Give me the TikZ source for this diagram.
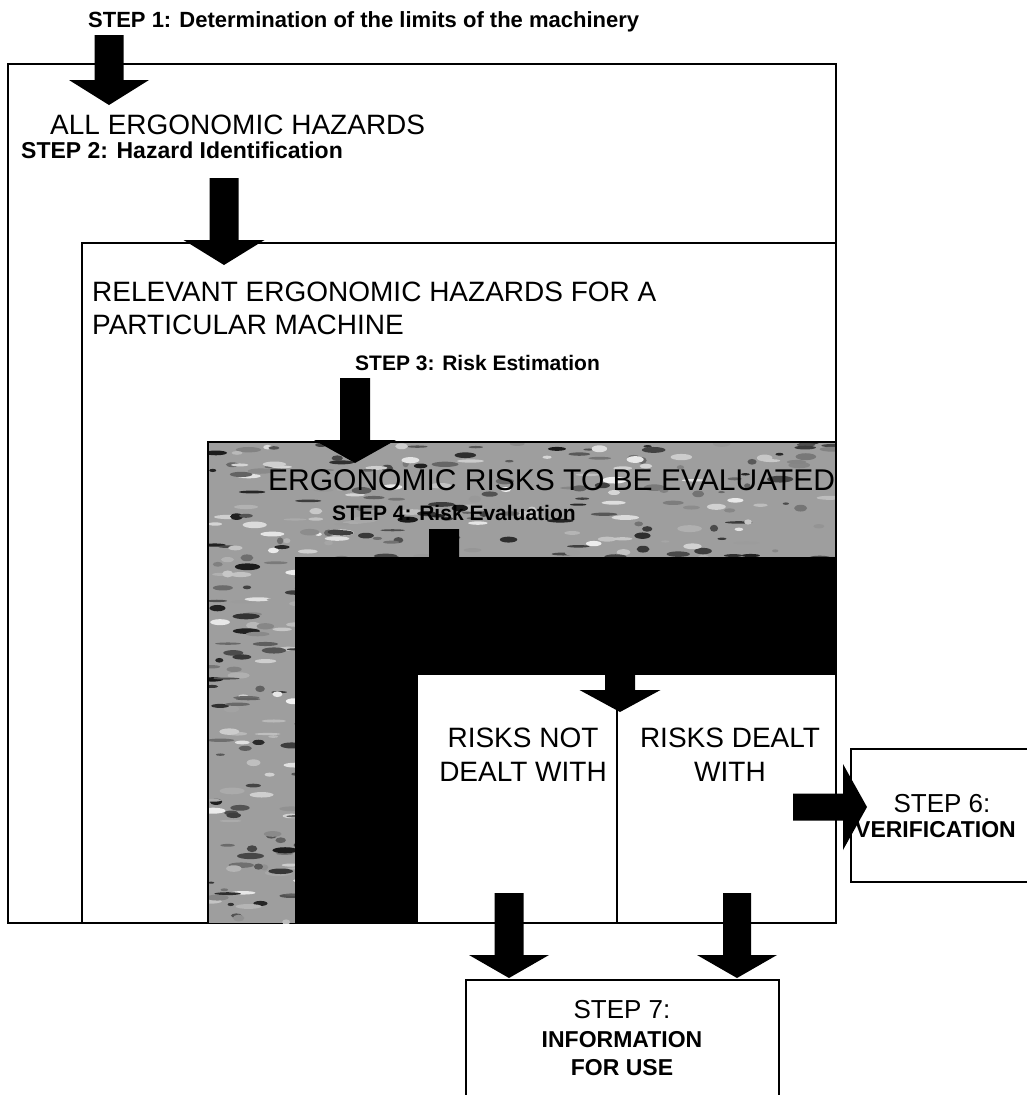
\documentclass[tikz,border=0pt]{standalone}
\usepackage{fontspec}
\setmainfont{Liberation Sans}
\usetikzlibrary{calc}
\tikzset{
  frame/.style={draw=black, line width=1.8pt},
  thin frame/.style={draw=black, line width=1.4pt},
  bigtxt/.style={font=\fontsize{28}{33}\selectfont, inner sep=0pt},
  evaltxt/.style={font=\fontsize{30}{34}\selectfont, inner sep=0pt},
  steplbl/.style={font=\bfseries\fontsize{21}{25}\selectfont, inner sep=0pt},
  boxtxt/.style={font=\fontsize{26}{30}\selectfont, inner sep=0pt},
  boxbold/.style={font=\bfseries\fontsize{23}{27}\selectfont, inner sep=0pt},
  arrowfill/.style={fill=black},
}
% down block arrow: #1 start coord, #2 tip coord, #3 shaft half width, #4 head half width, #5 head length
\newcommand\dnarrow[5]{\fill[arrowfill] let \p1=(#1),\p2=(#2) in
  (\x1-#3pt,\y1) -- (\x1+#3pt,\y1) -- (\x1+#3pt,\y2+#5pt) -- (\x1+#4pt,\y2+#5pt)
  -- (\x2,\y2) -- (\x1-#4pt,\y2+#5pt) -- (\x1-#3pt,\y2+#5pt) -- cycle;}
% right block arrow
\newcommand\rtarrow[5]{\fill[arrowfill] let \p1=(#1),\p2=(#2) in
  (\x1,\y1+#3pt) -- (\x1,\y1-#3pt) -- (\x2-#5pt,\y1-#3pt) -- (\x2-#5pt,\y1-#4pt)
  -- (\x2,\y2) -- (\x2-#5pt,\y1+#4pt) -- (\x2-#5pt,\y1+#3pt) -- cycle;}
\begin{document}
\begin{tikzpicture}[x=1pt,y=-1pt]
\useasboundingbox[fill=white] (0,0) rectangle (1026,1095);

% outer boxes
\draw[frame] (8,64) rectangle (836,923);
\draw[frame] (82,243) rectangle (836,923);

% box 3: mottled texture
\begin{scope}
  \clip (208,442) rectangle (836,923);
  \fill[black!38] (208,442) rectangle (836,923);
  \pgfmathsetseed{12}
  \foreach \i in {1,...,900}{
    \pgfmathsetmacro\cx{208+628*rnd}
    \pgfmathsetmacro\cy{442+481*rnd}
    \pgfmathsetmacro\rx{3+11*rnd}
    \pgfmathsetmacro\ry{1+2.5*rnd}
    \pgfmathsetmacro\gv{round(5+85*rnd)}
    \fill[black!\gv] (\cx,\cy) ellipse [x radius=\rx, y radius=\ry];
  }
\end{scope}
\draw[thin frame] (208,923) -- (208,442) -- (836,442);

% box 4 black and box 5 white
\fill[black] (295,557) rectangle (836,923);
\fill[white] (418,675) rectangle (836,923);
\draw[thin frame] (617,675) -- (617,923);
\draw[frame] (418,923) -- (836,923) -- (836,64);

% step 6 and step 7 boxes
\draw[frame, fill=white] (851,749) rectangle (1040,882);
\draw[frame, fill=white] (466,980) rectangle (779,1110);

% arrows
\coordinate (a1s) at (109,35);  \coordinate (a1t) at (109,105);
\coordinate (a2s) at (224,178); \coordinate (a2t) at (224,265);
\coordinate (a3s) at (355,378); \coordinate (a3t) at (355,463);
\coordinate (a4s) at (444,529); \coordinate (a4t) at (444,620);
\coordinate (a5s) at (620,650); \coordinate (a5t) at (620,712);
\coordinate (a6s) at (793,807); \coordinate (a6t) at (867,807);
\coordinate (a7s) at (509,893); \coordinate (a7t) at (509,978);
\coordinate (a8s) at (737,893); \coordinate (a8t) at (737,978);
\dnarrow{a1s}{a1t}{14.5}{40}{25}
\dnarrow{a2s}{a2t}{14.5}{40.5}{25}
\dnarrow{a3s}{a3t}{15}{41}{23}
\dnarrow{a4s}{a4t}{15}{41}{24}
\dnarrow{a5s}{a5t}{15}{40.5}{22}
\rtarrow{a6s}{a6t}{13.5}{43}{24}
\dnarrow{a7s}{a7t}{14.5}{40}{23}
\dnarrow{a8s}{a8t}{14}{40}{23}

% texts
\node[steplbl, font=\bfseries\fontsize{22}{26}\selectfont, anchor=base west] (s1) at (88,27) {STEP 1: Determination of the limits of the machinery};
\node[bigtxt, anchor=base west] (h1) at (50,134) {ALL ERGONOMIC HAZARDS};
\node[steplbl, font=\bfseries\fontsize{23}{27}\selectfont, anchor=base west] (s2) at (21,158) {STEP 2: Hazard Identification};
\node[bigtxt, anchor=base west] (h2a) at (92,301) {RELEVANT ERGONOMIC HAZARDS FOR A};
\node[bigtxt, anchor=base west] (h2b) at (92,334) {PARTICULAR MACHINE};
\node[steplbl, anchor=base west] (s3) at (355,370) {STEP 3: Risk Estimation};
\node[evaltxt, anchor=base west] (h3) at (268,490) {ERGONOMIC RISKS TO BE EVALUATED};
\node[steplbl, anchor=base west] (s4) at (332,520) {STEP 4: Risk Evaluation};
\node[bigtxt, anchor=base] (n1) at (523,747) {RISKS NOT};
\node[bigtxt, anchor=base] (n2) at (523,781) {DEALT WITH};
\node[bigtxt, anchor=base] (d1) at (730,747) {RISKS DEALT};
\node[bigtxt, anchor=base] (d2) at (730,781) {WITH};
\node[boxtxt, anchor=base] (s6) at (942,812) {STEP 6:};
\node[boxbold, anchor=base west] (s6b) at (855,837) {VERIFICATION};
\node[boxtxt, anchor=base] (s7) at (622,1018) {STEP 7:};
\node[boxbold, anchor=base] (s7b) at (622,1047) {INFORMATION};
\node[boxbold, anchor=base] (s7c) at (622,1075) {FOR USE};
\end{tikzpicture}
\end{document}
